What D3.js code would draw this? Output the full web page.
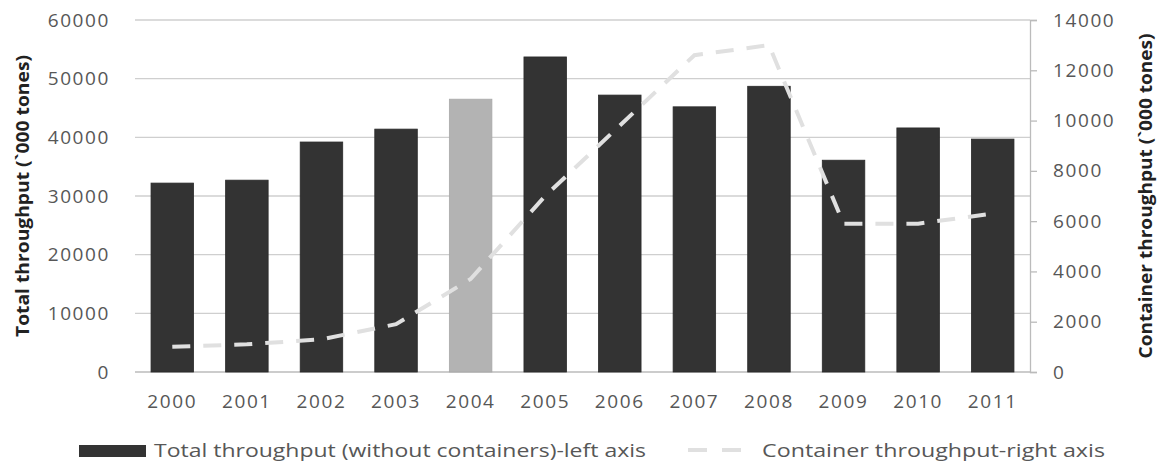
<!DOCTYPE html>
<html><head><meta charset="utf-8">
<script src="https://cdn.jsdelivr.net/npm/d3@7"></script>
<style>
html,body{margin:0;padding:0;background:#fff;}
text{font-family:"Open Sans",sans-serif;}
</style></head>
<body>
<svg id="c" width="1161" height="463"></svg>
<script>
const years = ["2000","2001","2002","2003","2004","2005","2006","2007","2008","2009","2010","2011"];
const totalThroughput = [32200,32700,39200,41400,46500,53700,47200,45200,48700,36100,41600,39700];
const containerThroughput = [1000,1100,1300,1900,3700,7000,9800,12600,13000,5900,5900,6300];
const leftTicks = [0,10000,20000,30000,40000,50000,60000];
const rightTicks = [0,2000,4000,6000,8000,10000,12000,14000];
const highlightYear = "2004";
const labels = {
  left: "Total throughput (`000 tones)",
  right: "Container throughput (`000 tones)",
  bars: "Total throughput (without containers)-left axis",
  line: "Container throughput-right axis"
};

const svg = d3.select("#c");
const L = 135, R = 1030, T = 20, B = 372;
const x = d3.scaleBand().domain(years).range([L, R]).paddingInner(0.43).paddingOuter(0.215);
const yL = d3.scaleLinear().domain([0, 60000]).range([B, T]);
const yR = d3.scaleLinear().domain([0, 14000]).range([B, T]);
const tickStyle = s => s.attr("font-size", 19).attr("fill", "#575757").attr("letter-spacing", 1.6);

// gridlines
svg.append("g").selectAll("line").data(leftTicks).join("line")
  .attr("x1", L).attr("x2", R).attr("y1", d => yL(d)).attr("y2", d => yL(d))
  .attr("stroke", d => d === 0 ? "#bbb" : "#cfcfcf").attr("stroke-width", 1.3);

// left axis labels
const gl = svg.append("g").attr("transform", `translate(${L},0)`)
  .call(d3.axisLeft(yL).tickValues(leftTicks).tickSize(0).tickPadding(25).tickFormat(d3.format("d")));
gl.select(".domain").remove();
gl.selectAll("text").call(tickStyle).attr("font-family", "Open Sans");

// right axis
const gr = svg.append("g").attr("transform", `translate(${R},0)`)
  .call(d3.axisRight(yR).tickValues(rightTicks).tickSize(7).tickPadding(16).tickFormat(d3.format("d")));
gr.select(".domain").attr("stroke", "#bbb").attr("stroke-width", 1.3);
gr.selectAll("line").attr("stroke", "#bbb").attr("stroke-width", 1.3);
gr.selectAll("text").call(tickStyle).attr("font-family", "Open Sans");

// x axis labels
const gx = svg.append("g").attr("transform", `translate(0,${B})`)
  .call(d3.axisBottom(x).tickSize(0).tickPadding(23));
gx.select(".domain").remove();
gx.selectAll("text").call(tickStyle).attr("font-family", "Open Sans");

// bars
svg.append("g").selectAll("rect").data(years).join("rect")
  .attr("x", d => x(d)).attr("width", x.bandwidth())
  .attr("y", (d, i) => yL(totalThroughput[i])).attr("height", (d, i) => B - yL(totalThroughput[i]))
  .attr("fill", d => d === highlightYear ? "#b3b3b3" : "#333333")
  .attr("stroke", d => d === highlightYear ? "#a8a8a8" : "#2a2a2a").attr("stroke-width", 0.8);

// line
const line = d3.line().x((d, i) => x(years[i]) + x.bandwidth() / 2).y(d => yR(d));
svg.append("path").datum(containerThroughput).attr("d", line)
  .attr("fill", "none").attr("stroke", "#e0e0e0").attr("stroke-width", 4)
  .attr("stroke-dasharray", "18,13");

// axis titles
svg.append("text").attr("transform", `translate(29,196) rotate(-90)`)
  .attr("text-anchor", "middle").attr("font-size", 17).attr("font-weight", "bold").attr("fill", "#222")
  .attr("textLength", 282).attr("lengthAdjust", "spacingAndGlyphs").text(labels.left);
svg.append("text").attr("transform", `translate(1152,196) rotate(-90)`)
  .attr("text-anchor", "middle").attr("font-size", 17).attr("font-weight", "bold").attr("fill", "#222")
  .attr("textLength", 325).attr("lengthAdjust", "spacingAndGlyphs").text(labels.right);

// legend
const lg = svg.append("g");
lg.append("rect").attr("x", 79).attr("y", 445).attr("width", 67).attr("height", 12).attr("fill", "#333");
lg.append("text").attr("x", 154).attr("y", 457).attr("font-size", 19).attr("fill", "#575757")
  .attr("textLength", 492).attr("lengthAdjust", "spacingAndGlyphs").text(labels.bars);
lg.append("line").attr("x1", 688).attr("x2", 741).attr("y1", 450).attr("y2", 450)
  .attr("stroke", "#e0e0e0").attr("stroke-width", 4).attr("stroke-dasharray", "19,15");
lg.append("text").attr("x", 762).attr("y", 457).attr("font-size", 19).attr("fill", "#575757")
  .attr("textLength", 343).attr("lengthAdjust", "spacingAndGlyphs").text(labels.line);
</script>
</body></html>
